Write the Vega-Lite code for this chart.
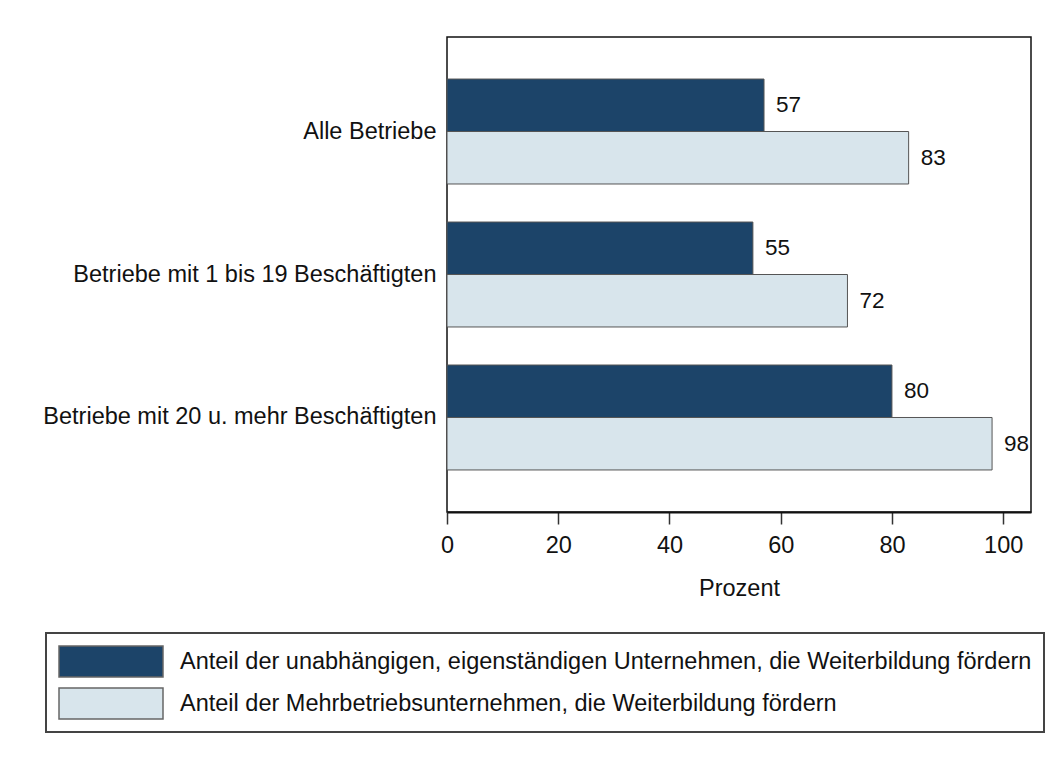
{
  "$schema": "https://vega.github.io/schema/vega-lite/v6.json",
  "autosize": {"type": "none"},
  "padding": {"left": 447, "top": 37, "right": 15, "bottom": 248},
  "width": 584,
  "height": 475,
  "background": "white",
  "config": {
    "font": "Liberation Sans",
    "view": {"stroke": "#111", "strokeWidth": 1.5},
    "axis": {"labelFont": "Liberation Sans", "titleFont": "Liberation Sans", "labelColor": "#111", "titleColor": "#111"}
  },
  "data": {
    "values": [
      {"Gruppe": "Alle Betriebe", "Serie": "Anteil der unabhängigen, eigenständigen Unternehmen, die Weiterbildung fördern", "Wert": 57},
      {"Gruppe": "Alle Betriebe", "Serie": "Anteil der Mehrbetriebsunternehmen, die Weiterbildung fördern", "Wert": 83},
      {"Gruppe": "Betriebe mit 1 bis 19 Beschäftigten", "Serie": "Anteil der unabhängigen, eigenständigen Unternehmen, die Weiterbildung fördern", "Wert": 55},
      {"Gruppe": "Betriebe mit 1 bis 19 Beschäftigten", "Serie": "Anteil der Mehrbetriebsunternehmen, die Weiterbildung fördern", "Wert": 72},
      {"Gruppe": "Betriebe mit 20 u. mehr Beschäftigten", "Serie": "Anteil der unabhängigen, eigenständigen Unternehmen, die Weiterbildung fördern", "Wert": 80},
      {"Gruppe": "Betriebe mit 20 u. mehr Beschäftigten", "Serie": "Anteil der Mehrbetriebsunternehmen, die Weiterbildung fördern", "Wert": 98}
    ]
  },
  "encoding": {
    "y": {
      "field": "Gruppe",
      "type": "nominal",
      "sort": ["Alle Betriebe", "Betriebe mit 1 bis 19 Beschäftigten", "Betriebe mit 20 u. mehr Beschäftigten"],
      "scale": {"paddingInner": 0.266, "paddingOuter": 0.294},
      "axis": {"title": null, "domain": false, "ticks": false, "labelPadding": 11, "labelFontSize": 23.5, "labelLimit": 1000}
    },
    "yOffset": {
      "field": "Serie",
      "type": "nominal",
      "sort": ["Anteil der unabhängigen, eigenständigen Unternehmen, die Weiterbildung fördern", "Anteil der Mehrbetriebsunternehmen, die Weiterbildung fördern"],
      "scale": {"paddingInner": 0, "paddingOuter": 0}
    },
    "x": {
      "field": "Wert",
      "type": "quantitative",
      "scale": {"domain": [0, 105], "nice": false},
      "axis": {
        "title": "Prozent",
        "values": [0, 20, 40, 60, 80, 100],
        "grid": false,
        "domainColor": "#111",
        "domainWidth": 2,
        "tickColor": "#333",
        "tickSize": 12,
        "tickWidth": 1.5,
        "labelFontSize": 23.5,
        "labelPadding": 9,
        "labelFlush": false,
        "titleFontSize": 23.5,
        "titleFontWeight": "normal",
        "titlePadding": 20
      }
    }
  },
  "layer": [
    {
      "mark": {"type": "bar", "stroke": "#555", "strokeWidth": 1},
      "encoding": {
        "fill": {
          "field": "Serie",
          "type": "nominal",
          "sort": ["Anteil der unabhängigen, eigenständigen Unternehmen, die Weiterbildung fördern", "Anteil der Mehrbetriebsunternehmen, die Weiterbildung fördern"],
          "scale": {"range": ["#1c4469", "#d8e5ec"]},
          "legend": {
            "title": null,
            "orient": "none",
            "legendX": -401,
            "legendY": 596,
            "direction": "vertical",
            "padding": 12,
            "strokeColor": "#444",
            "symbolType": "M-1,-0.3L1,-0.3L1,0.3L-1,0.3Z",
            "symbolSize": 10816,
            "symbolStrokeColor": "#666",
            "symbolStrokeWidth": 1.5,
            "symbolOpacity": 1,
            "clipHeight": 33,
            "rowPadding": 9,
            "labelOffset": 16,
            "labelFontSize": 23.5,
            "labelFont": "Liberation Sans",
            "labelColor": "#111",
            "labelLimit": 2000,
            "encode": {"legend": {"update": {"strokeWidth": {"value": 2}}}}
          }
        }
      }
    },
    {
      "mark": {"type": "text", "align": "left", "baseline": "middle", "dx": 12, "fontSize": 22.5, "color": "#111", "font": "Liberation Sans"},
      "encoding": {
        "text": {"field": "Wert", "type": "quantitative"}
      }
    }
  ]
}
